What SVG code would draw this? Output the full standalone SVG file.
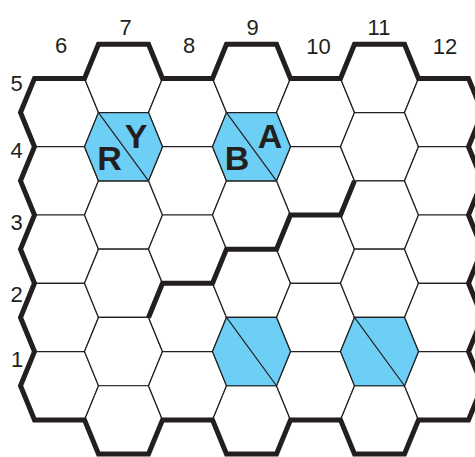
<svg xmlns="http://www.w3.org/2000/svg" xmlns:xlink="http://www.w3.org/1999/xlink" width="475" height="457" viewBox="0 0 475 457">
<style>
.hex{fill:#ffffff;stroke:#231f20;stroke-width:1.2;stroke-linejoin:miter}
.blue{fill:#6dcff6;stroke:#231f20;stroke-width:1.2}
.diag{stroke:#231f20;stroke-width:1.2;fill:none}
.bold{fill:none;stroke:#231f20;stroke-width:5;stroke-linejoin:miter;stroke-miterlimit:10}
.lab{font-family:"Liberation Sans",Arial,sans-serif;font-size:22px;fill:#231f20;text-anchor:middle}
.big{font-family:"Liberation Sans",Arial,sans-serif;font-size:34px;font-weight:bold;fill:#231f20;text-anchor:middle}
</style>
<defs>
<polygon id="hx" points="-39,0 -25,-34.15 25,-34.15 39,0 25,34.15 -25,34.15"/>
</defs>
<rect width="475" height="457" fill="#ffffff"/>
<g id="grid">
<g id="col6">
<use xlink:href="#hx" class="hex" x="59.5" y="112.55"/>
<use xlink:href="#hx" class="hex" x="59.5" y="180.85"/>
<use xlink:href="#hx" class="hex" x="59.5" y="249.15"/>
<use xlink:href="#hx" class="hex" x="59.5" y="317.45"/>
<use xlink:href="#hx" class="hex" x="59.5" y="385.75"/>
</g>
<g id="col7">
<use xlink:href="#hx" class="hex" x="123.5" y="78.4"/>
<use xlink:href="#hx" class="hex" x="123.5" y="215"/>
<use xlink:href="#hx" class="hex" x="123.5" y="283.3"/>
<use xlink:href="#hx" class="hex" x="123.5" y="351.6"/>
<use xlink:href="#hx" class="hex" x="123.5" y="419.9"/>
</g>
<g id="col8">
<use xlink:href="#hx" class="hex" x="187.5" y="112.55"/>
<use xlink:href="#hx" class="hex" x="187.5" y="180.85"/>
<use xlink:href="#hx" class="hex" x="187.5" y="249.15"/>
<use xlink:href="#hx" class="hex" x="187.5" y="317.45"/>
<use xlink:href="#hx" class="hex" x="187.5" y="385.75"/>
</g>
<g id="col9">
<use xlink:href="#hx" class="hex" x="251.5" y="78.4"/>
<use xlink:href="#hx" class="hex" x="251.5" y="215"/>
<use xlink:href="#hx" class="hex" x="251.5" y="283.3"/>
<use xlink:href="#hx" class="hex" x="251.5" y="419.9"/>
</g>
<g id="col10">
<use xlink:href="#hx" class="hex" x="315.5" y="112.55"/>
<use xlink:href="#hx" class="hex" x="315.5" y="180.85"/>
<use xlink:href="#hx" class="hex" x="315.5" y="249.15"/>
<use xlink:href="#hx" class="hex" x="315.5" y="317.45"/>
<use xlink:href="#hx" class="hex" x="315.5" y="385.75"/>
</g>
<g id="col11">
<use xlink:href="#hx" class="hex" x="379.5" y="78.4"/>
<use xlink:href="#hx" class="hex" x="379.5" y="146.7"/>
<use xlink:href="#hx" class="hex" x="379.5" y="215"/>
<use xlink:href="#hx" class="hex" x="379.5" y="283.3"/>
<use xlink:href="#hx" class="hex" x="379.5" y="419.9"/>
</g>
<g id="col12">
<use xlink:href="#hx" class="hex" x="443.5" y="112.55"/>
<use xlink:href="#hx" class="hex" x="443.5" y="180.85"/>
<use xlink:href="#hx" class="hex" x="443.5" y="249.15"/>
<use xlink:href="#hx" class="hex" x="443.5" y="317.45"/>
<use xlink:href="#hx" class="hex" x="443.5" y="385.75"/>
</g>
</g>
<g id="hex-RY">
<use xlink:href="#hx" class="blue" x="123.5" y="146.7"/>
<line class="diag" x1="98.5" y1="112.55" x2="148.5" y2="180.85"/>
<text class="big" x="109.5" y="170">R</text>
<text class="big" x="136" y="148">Y</text>
</g>
<g id="hex-BA">
<use xlink:href="#hx" class="blue" x="251.5" y="146.7"/>
<line class="diag" x1="226.5" y1="112.55" x2="276.5" y2="180.85"/>
<text class="big" x="237" y="170">B</text>
<text class="big" x="270" y="148">A</text>
</g>
<g id="hex-9-1">
<use xlink:href="#hx" class="blue" x="251.5" y="351.6"/>
<line class="diag" x1="226.5" y1="317.45" x2="276.5" y2="385.75"/>
</g>
<g id="hex-11-1">
<use xlink:href="#hx" class="blue" x="379.5" y="351.6"/>
<line class="diag" x1="354.5" y1="317.45" x2="404.5" y2="385.75"/>
</g>
<g id="connectors">
<path class="bold" d="M20.5,112.55 L34.5,78.4 L84.5,78.4 L98.5,44.25 L148.5,44.25 L162.5,78.4 L212.5,78.4 L226.5,44.25 L276.5,44.25 L290.5,78.4 L340.5,78.4 L354.5,44.25 L404.5,44.25 L418.5,78.4 L468.5,78.4 L482.5,112.55 L468.5,146.7 L482.5,180.85 L468.5,215 L482.5,249.15 L468.5,283.3 L482.5,317.45 L468.5,351.6 L482.5,385.75 L468.5,419.9 L418.5,419.9 L404.5,454.05 L354.5,454.05 L340.5,419.9 L290.5,419.9 L276.5,454.05 L226.5,454.05 L212.5,419.9 L162.5,419.9 L148.5,454.05 L98.5,454.05 L84.5,419.9 L34.5,419.9 L20.5,385.75 L34.5,351.6 L20.5,317.45 L34.5,283.3 L20.5,249.15 L34.5,215 L20.5,180.85 L34.5,146.7 Z"/>
<path class="bold" d="M354.5,180.85 L340.5,215 L290.5,215 L276.5,249.15 L226.5,249.15 L212.5,283.3 L162.5,283.3 L148.5,317.45"/>
</g>
<g id="labels">
<text class="lab" x="61" y="53">6</text>
<text class="lab" x="125.5" y="35">7</text>
<text class="lab" x="189" y="53">8</text>
<text class="lab" x="252.5" y="35">9</text>
<text class="lab" x="318.5" y="54">10</text>
<text class="lab" x="379" y="35">11</text>
<text class="lab" x="445" y="54">12</text>
<text class="lab" x="16.5" y="91">5</text>
<text class="lab" x="16.5" y="158">4</text>
<text class="lab" x="16.5" y="230">3</text>
<text class="lab" x="16.5" y="302">2</text>
<text class="lab" x="17" y="367">1</text>
</g>
</svg>
